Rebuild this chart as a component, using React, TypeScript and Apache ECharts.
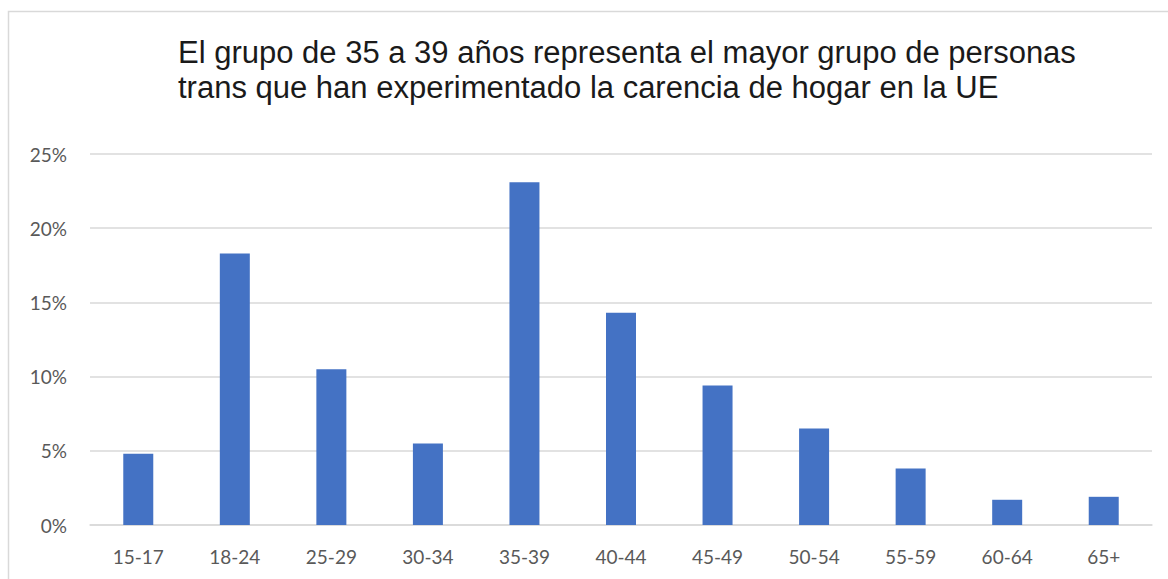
import React, { useEffect, useRef } from "react";
import * as echarts from "echarts";

const titleLines = [
  "El grupo de 35 a 39 años representa el mayor grupo de personas",
  "trans que han experimentado la carencia de hogar en la UE",
];
const categories = ["15-17", "18-24", "25-29", "30-34", "35-39", "40-44", "45-49", "50-54", "55-59", "60-64", "65+"];
const values = [4.8, 18.3, 10.5, 5.5, 23.1, 14.3, 9.4, 6.5, 3.8, 1.7, 1.9];
const yTicks = [0, 5, 10, 15, 20, 25];

export default function App() {
  const ref = useRef<HTMLDivElement>(null);
  useEffect(() => {
    if (!ref.current) return;
    const chart = echarts.init(ref.current, undefined, { renderer: "svg" });
    chart.setOption({
      animation: false,
      backgroundColor: "#ffffff",
      title: {
        text: titleLines.join("\n"),
        left: 173,
        top: 30,
        textStyle: {
          fontFamily: "Liberation Sans, Arial, sans-serif",
          fontSize: 31,
          fontWeight: "normal",
          color: "#1a1a1a",
          lineHeight: 35,
        },
      },
      graphic: [
        {
          type: "rect",
          shape: { x: 8.5, y: 11.5, width: 1300, height: 700 },
          style: { fill: "none", stroke: "#d9d9d9", lineWidth: 1.5 },
          silent: true,
        },
      ],
      grid: { left: 90, right: 16, top: 154, bottom: 54, containLabel: false },
      xAxis: {
        type: "category",
        data: categories,
        axisLine: { show: true, lineStyle: { color: "#d9d9d9", width: 1.5 } },
        axisTick: { show: false },
        axisLabel: {
          color: "#595959",
          fontFamily: "Lato, sans-serif",
          fontSize: 19,
          margin: 22,
        },
      },
      yAxis: {
        type: "value",
        min: yTicks[0],
        max: yTicks[yTicks.length - 1],
        interval: 5,
        axisLine: { show: false },
        axisTick: { show: false },
        splitLine: { lineStyle: { color: "#d9d9d9", width: 1.5 } },
        axisLabel: {
          color: "#595959",
          fontFamily: "Lato, sans-serif",
          fontSize: 19,
          margin: 23,
          formatter: (v: number) => `${v}%`,
        },
      },
      series: [
        {
          type: "bar",
          data: values,
          barWidth: 30,
          itemStyle: { color: "#4472c4" },
        },
      ],
    });
    return () => chart.dispose();
  }, []);
  return (
    <div
      ref={ref}
      style={{ position: "fixed", left: 0, top: 0, width: 1168, height: 579 }}
    />
  );
}
